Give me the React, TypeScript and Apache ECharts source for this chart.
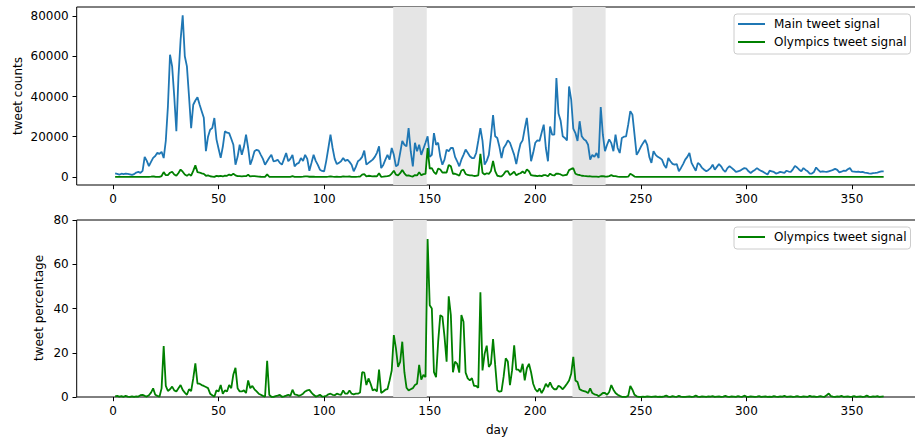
import React, { useEffect, useRef } from "react";
import * as echarts from "echarts";

const FONT = "DejaVu Sans";

const mainSignal = [
  1800, 1500, 1200, 1600, 1400, 1700, 1500, 1300, 1000, 1400,
  2200, 2500, 2000, 3000, 10000, 8000, 5400, 7500, 9500, 10400,
  12000, 11500, 12500, 9400, 18000, 35000, 60800, 55000, 40000, 22700,
  50000, 68000, 80400, 60000, 55000, 40000, 24300, 35900, 38000, 39600,
  36000, 32700, 29400, 12800, 20000, 23500, 24300, 29300, 18700, 14000,
  9500, 15000, 22700, 22000, 21800, 19000, 16000, 6100, 10000, 16000,
  11000, 15000, 21000, 14400, 6100, 9000, 12800, 13500, 13100, 11000,
  9000, 6100, 7800, 9500, 11000, 7800, 8000, 8600, 7000, 6100,
  9000, 11900, 7800, 9000, 11000, 5300, 6500, 7000, 9400, 8000,
  11000, 9000, 3100, 7000, 11000, 8000, 6000, 3600, 3000, 2800,
  8000, 14400, 21000, 14400, 9000, 6400, 7000, 7800, 9400, 8000,
  8600, 7500, 6100, 2800, 5000, 7800, 8600, 10000, 13100, 6100,
  7000, 7800, 8600, 10000, 12000, 15200, 4400, 6000, 8600, 11000,
  8600, 14400, 11000, 5300, 6100, 12000, 17900, 16000, 15200, 24300,
  12800, 5300, 17000, 12800, 16000, 11000, 14000, 17000, 20200, 10000,
  11000, 21800, 16000, 17000, 10000, 6100, 8600, 13600, 12800, 14400,
  14400, 10000, 7800, 5300, 8600, 11000, 13600, 12000, 10300, 9400,
  9400, 11900, 18000, 24300, 17900, 6100, 8000, 11000, 20000, 30700,
  20200, 19400, 15000, 9400, 14400, 16000, 18200, 17000, 14000, 11000,
  6400, 12000, 16500, 18200, 24000, 29400, 19000, 7800, 12000, 17000,
  18200, 17900, 22000, 26000, 14400, 7800, 25100, 21000, 21000, 49200,
  31500, 28000, 20200, 19400, 18200, 45000, 38500, 24000, 21800, 17900,
  27700, 20200, 18700, 18000, 16000, 8600, 11000, 10000, 11900, 9400,
  34800, 21000, 12800, 16000, 18700, 16800, 12800, 21000, 14400, 11900,
  19400, 20000, 20200, 26000, 32700, 31000, 21000, 11000, 12800, 15000,
  16800, 18400, 16000, 10000, 7000, 12800, 11000, 10000, 9400, 8600,
  6000, 4400, 9400, 7800, 6500, 6100, 6400, 2800, 4500, 6400,
  8600, 10000, 11900, 7000, 5000, 3100, 7000, 6100, 4500, 3600,
  2800, 3500, 4400, 6100, 3600, 5000, 6400, 5300, 3500, 2500,
  4400, 5300, 4500, 3600, 2500, 2800, 3100, 3800, 4400, 4100,
  2800, 2000, 2800, 3500, 4400, 3600, 3000, 2500, 1800, 1200,
  3100, 2800, 2500, 1700, 2000, 2500, 2300, 2000, 3100, 2700,
  2500, 3800, 5500, 4700, 3600, 2800, 4400, 3500, 2800, 1700,
  1700, 2500, 4700, 3500, 2500, 2800, 2600, 2500, 2800, 3100,
  3500, 4000, 3500, 2300, 2600, 3100, 3000, 3800, 4400, 2800,
  2700, 2500, 2600, 2400, 2500, 2200, 2000, 1800, 1700, 1900,
  2000, 2200, 2500, 2800, 2800,
];

const olympicsCounts = [
  10, 5, 0, 5, 0, 10, 0, 0, 5, 0,
  5, 0, 20, 30, 50, 20, 60, 150, 300, 100,
  60, 10, 450, 2400, 900, 950, 2100, 2600, 1200, 570,
  2000, 3700, 2600, 1200, 550, 1400, 650, 3000, 5800, 2400,
  2200, 1750, 1500, 580, 800, 350, 200, 30, 560, 350,
  510, 230, 680, 550, 1180, 760, 1630, 800, 400, 400,
  280, 450, 380, 1080, 240, 450, 450, 340, 200, 110,
  45, 6, 1280, 95, 11, 8, 32, 52, 70, 6,
  27, 71, 78, 45, 360, 64, 65, 35, 85, 120,
  275, 270, 100, 140, 110, 16, 30, 36, 6, 8,
  40, 170, 320, 140, 70, 100, 85, 80, 280, 120,
  130, 220, 90, 35, 75, 120, 170, 1120, 1440, 330,
  590, 470, 260, 350, 300, 1880, 80, 150, 280, 400,
  650, 1700, 3100, 1170, 830, 1900, 3500, 1800, 640, 730,
  450, 210, 920, 770, 2300, 860, 1400, 1500, 14400, 4150,
  4400, 2400, 1400, 4200, 3700, 2200, 2300, 2200, 6000, 5300,
  1600, 1600, 1200, 600, 3200, 3700, 1500, 1000, 800, 800,
  470, 600, 760, 11500, 2100, 1200, 1850, 1500, 3000, 8000,
  2900, 600, 360, 250, 1300, 2800, 2900, 900, 1700, 2600,
  800, 1500, 1850, 2700, 1800, 3800, 2850, 870, 720, 600,
  440, 700, 400, 900, 860, 350, 1650, 950, 730, 1700,
  1600, 1260, 700, 900, 1100, 3400, 4000, 4350, 1600, 1200,
  970, 600, 500, 430, 290, 340, 200, 120, 120, 30,
  350, 380, 230, 160, 430, 900, 420, 380, 140, 60,
  20, 20, 20, 130, 1600, 1000, 210, 30, 10, 15,
  34, 18, 48, 20, 7, 26, 33, 10, 19, 9,
  18, 26, 19, 8, 26, 12, 6, 14, 9, 6,
  9, 20, 36, 7, 10, 19, 14, 6, 14, 7,
  3, 11, 9, 24, 4, 10, 19, 5, 7, 13,
  9, 5, 14, 7, 3, 11, 6, 4, 26, 8,
  3, 6, 6, 4, 9, 14, 3, 5, 5, 1,
  6, 3, 10, 3, 2, 8, 5, 10, 3, 5,
  8, 4, 11, 19, 7, 3, 13, 7, 3, 9,
  3, 8, 5, 7, 10, 6, 3, 20, 45, 12,
  7, 4, 11, 5, 13, 3, 6, 11, 4, 6,
  11, 3, 5, 7, 3, 4, 12, 4, 2, 6,
  4, 9, 3, 6, 8,
];

const olympicsPercent = [
  0.3, 0.5, 0.2, 0.4, 0.1, 0.5, 0.2, 0.1, 0.3, 0.1,
  0.3, 0.2, 0.8, 1.0, 0.5, 0.2, 0.8, 2.0, 3.9, 1.0,
  0.5, 0.1, 3.9, 23, 5.0, 2.7, 3.5, 4.7, 3.0, 2.5,
  4.0, 5.4, 3.2, 2.0, 1.0, 3.5, 2.7, 8.4, 15.2, 6.1,
  6.0, 5.4, 5.0, 4.5, 4.0, 1.5, 0.8, 0.1, 3.0, 2.5,
  5.4, 1.5, 3.0, 2.5, 5.4, 4.0, 10.2, 13.2, 4.0, 2.5,
  2.5, 3.0, 1.8, 7.5, 4.0, 5.0, 3.5, 2.5, 1.5, 1.0,
  0.5, 0.1, 16.4, 1.0, 0.1, 0.1, 0.4, 0.6, 1.0, 0.1,
  0.3, 0.6, 1.0, 0.5, 3.3, 1.2, 1.0, 0.5, 0.9, 1.5,
  2.5, 3.0, 3.2, 2.0, 1.0, 0.2, 0.5, 1.0, 0.2, 0.3,
  0.5, 1.2, 1.5, 1.0, 0.8, 1.5, 1.2, 1.0, 3.0, 1.5,
  1.5, 3.0, 1.5, 1.2, 1.5, 1.5, 2.0, 11.2, 11.0, 5.4,
  8.4, 6.0, 3.0, 3.5, 2.5, 12.4, 1.8, 2.5, 3.3, 3.6,
  7.5, 12, 28, 22, 13.6, 15.9, 25, 11.2, 4.2, 3.0,
  3.5, 4.0, 5.4, 6.0, 14.5, 7.8, 10, 9, 71.4, 41.5,
  40, 11.2, 9, 25, 37, 36.3, 27.3, 16, 45.5, 37,
  11.2, 16, 15, 11, 37, 34, 11, 8.4, 7.5, 8.5,
  5, 5, 4.2, 47.3, 12, 19.5, 23.2, 13.6, 15, 26.2,
  14.5, 3, 2.4, 2.7, 9.2, 17.5, 16, 5.4, 12, 23.4,
  12.4, 12.4, 11.2, 15, 7.5, 13, 15, 11.2, 6, 3.5,
  2.4, 3.9, 1.8, 3.5, 6, 4.5, 6.6, 4.5, 3.5, 3.5,
  5.1, 4.5, 3.5, 4.7, 6, 7.5, 10.5, 18.1, 7.5, 6.8,
  3.5, 3, 2.7, 2.4, 1.8, 3.9, 1.8, 1.2, 1, 0.3,
  1, 1.8, 1.8, 1, 2.3, 5.4, 3.3, 1.8, 1, 0.5,
  0.1, 0.1, 0.1, 0.5, 5, 3.3, 1, 0.3, 0.1, 0.1,
  0.2, 0.1, 0.3, 0.2, 0.1, 0.2, 0.3, 0.1, 0.2, 0.1,
  0.3, 0.6, 0.2, 0.1, 0.4, 0.2, 0.1, 0.5, 0.2, 0.1,
  0.1, 0.2, 0.3, 0.1, 0.2, 0.6, 0.2, 0.1, 0.3, 0.2,
  0.1, 0.3, 0.2, 0.4, 0.1, 0.2, 0.3, 0.1, 0.2, 0.5,
  0.2, 0.1, 0.3, 0.2, 0.1, 0.4, 0.2, 0.1, 0.6, 0.2,
  0.1, 0.3, 0.2, 0.1, 0.2, 0.4, 0.1, 0.2, 0.3, 0.1,
  0.2, 0.1, 0.4, 0.2, 0.1, 0.3, 0.2, 0.5, 0.1, 0.2,
  0.3, 0.1, 0.2, 0.4, 0.2, 0.1, 0.3, 0.2, 0.1, 0.5,
  0.2, 0.3, 0.1, 0.2, 0.4, 0.2, 0.1, 0.8, 1.6, 0.4,
  0.2, 0.1, 0.3, 0.2, 0.5, 0.1, 0.2, 0.3, 0.1, 0.2,
  0.4, 0.1, 0.2, 0.3, 0.1, 0.2, 0.6, 0.2, 0.1, 0.3,
  0.2, 0.4, 0.1, 0.2, 0.3,
];

const firstDay = 1;
const shadeSpans = [
  [132.7, 148.6],
  [217.6, 233.3],
];
const xTicks = [0, 50, 100, 150, 200, 250, 300, 350];
const countTicks = [0, 20000, 40000, 60000, 80000];
const percentTicks = [0, 20, 40, 60, 80];

const BLUE = "#1f77b4";
const GREEN = "#008000";
const FS = 12;

export default function App() {
  const ref = useRef<HTMLDivElement>(null);

  useEffect(() => {
    if (!ref.current) return;
    const chart = echarts.init(ref.current, undefined, { renderer: "svg" });
    const pts = (arr: number[]) => arr.map((v, i) => [firstDay + i, v]);
    const markArea = {
      silent: true,
      itemStyle: { color: "#e5e5e5" },
      data: shadeSpans.map(([a, b]) => [{ xAxis: a }, { xAxis: b }]),
    };
    const tickStyle = { show: true, inside: false, length: 4.2, lineStyle: { color: "#000", width: 1 } };
    const labelStyle = { color: "#000", fontSize: FS, fontFamily: FONT };
    const xAxisBase = (gi: number) => ({
      type: "value",
      gridIndex: gi,
      min: -17.2,
      max: 383.2,
      splitLine: { show: false },
      axisLine: { show: false, onZero: false },
      axisTick: { ...tickStyle, customValues: xTicks },
      axisLabel: { ...labelStyle, margin: 8, customValues: xTicks, formatter: (v: number) => String(v) },
    });
    const legendBase = {
      orient: "vertical",
      left: 734,
      icon: "rect",
      itemWidth: 27,
      itemHeight: 2,
      itemGap: 4,
      padding: [3, 4, 5, 4],
      borderColor: "#cccccc",
      borderWidth: 1,
      borderRadius: 3,
      backgroundColor: "rgba(255,255,255,0.8)",
      selectedMode: false,
      textStyle: { ...labelStyle, lineHeight: 14, padding: [0, 0, 0, 4] },
    };
    const gridBase = {
      left: 76.7,
      width: 845.4,
      show: true,
      borderColor: "#000",
      borderWidth: 1,
      backgroundColor: "transparent",
      outerBoundsMode: "none",
      containLabel: false,
    };
    const option: any = {
      animation: false,
      textStyle: { fontFamily: FONT },
      grid: [
        { ...gridBase, top: 7, height: 178 },
        { ...gridBase, top: 220, height: 177 },
      ],
      xAxis: [xAxisBase(0), xAxisBase(1)],
      yAxis: [
        {
          type: "value",
          gridIndex: 0,
          min: -4000,
          max: 84500,
          splitLine: { show: false },
          axisLine: { show: false, onZero: false },
          axisTick: { ...tickStyle, customValues: countTicks },
          axisLabel: { ...labelStyle, margin: 8, customValues: countTicks, formatter: (v: number) => String(v) },
        },
        {
          type: "value",
          gridIndex: 1,
          min: 0,
          max: 80,
          splitLine: { show: false },
          axisLine: { show: false, onZero: false },
          axisTick: { ...tickStyle, customValues: percentTicks },
          axisLabel: { ...labelStyle, margin: 8, customValues: percentTicks, showMinLabel: true, showMaxLabel: true, formatter: (v: number) => String(v) },
        },
      ],
      legend: [
        { ...legendBase, top: 14, data: ["Main tweet signal", "Olympics tweet signal"] },
        { ...legendBase, top: 227, data: ["Olympics tweet signal"] },
      ],
      series: [
        {
          name: "Main tweet signal",
          type: "line",
          xAxisIndex: 0,
          yAxisIndex: 0,
          data: pts(mainSignal),
          showSymbol: false,
          lineStyle: { color: BLUE, width: 1.8 },
          itemStyle: { color: BLUE },
          markArea,
        },
        {
          name: "Olympics tweet signal",
          type: "line",
          xAxisIndex: 0,
          yAxisIndex: 0,
          data: pts(olympicsCounts),
          showSymbol: false,
          lineStyle: { color: GREEN, width: 1.8 },
          itemStyle: { color: GREEN },
        },
        {
          name: "Olympics tweet signal",
          type: "line",
          xAxisIndex: 1,
          yAxisIndex: 1,
          data: pts(olympicsPercent),
          showSymbol: false,
          lineStyle: { color: GREEN, width: 1.8 },
          itemStyle: { color: GREEN },
          markArea,
        },
      ],
      graphic: [
        { type: "text", x: 18, y: 96, rotation: Math.PI / 2, style: { text: "tweet counts", fontSize: FS, fontFamily: FONT, fill: "#000", align: "center", verticalAlign: "middle" } },
        { type: "text", x: 39, y: 308, rotation: Math.PI / 2, style: { text: "tweet percentage", fontSize: FS, fontFamily: FONT, fill: "#000", align: "center", verticalAlign: "middle" } },
        { type: "text", x: 497, y: 430, style: { text: "day", fontSize: FS, fontFamily: FONT, fill: "#000", align: "center", verticalAlign: "middle" } },
      ],
    };
    chart.setOption(option);
    return () => chart.dispose();
  }, []);

  return <div ref={ref} style={{ position: "absolute", left: 0, top: 0, width: 915, height: 438 }} />;
}
